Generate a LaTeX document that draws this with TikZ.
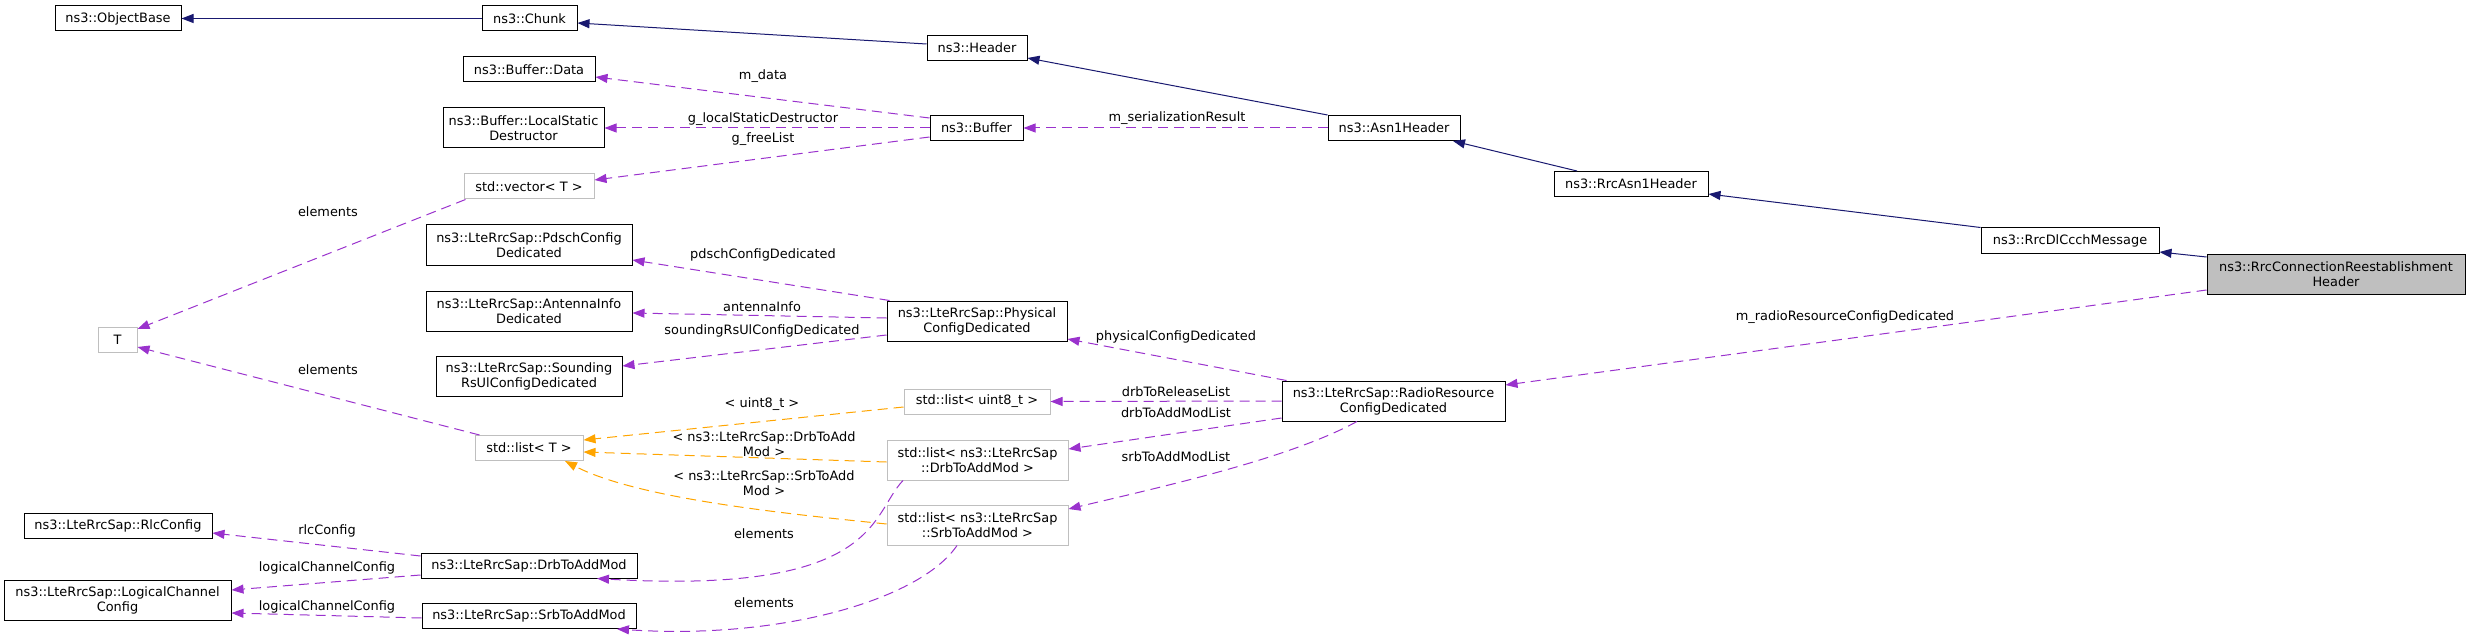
\documentclass[tikz,border=0pt]{standalone}
\usepackage{fontspec}
\setmainfont{DejaVu Sans}
\usetikzlibrary{arrows.meta,calc}
\definecolor{inhc}{HTML}{191970}
\definecolor{usec}{HTML}{9A32CD}
\definecolor{tplc}{HTML}{FFA500}
\definecolor{greyb}{HTML}{BFBFBF}
\begin{document}
\begin{tikzpicture}[x=1pt,y=-1pt,
  every node/.style={font=\fontsize{12.9pt}{15pt}\selectfont, align=center, inner sep=0pt},
  cls/.style={draw=black, line width=1pt, fill=white, minimum height=25pt},
  tcls/.style={draw=greyb, line width=1pt, fill=white, minimum height=25pt},
  two/.style={minimum height=40pt},
  inh/.style={draw=inhc, line width=1pt, -{Triangle[length=12pt,width=9pt]}},
  use/.style={draw=usec, line width=1pt, dash pattern=on 10pt off 6pt, -{Triangle[length=12pt,width=9pt]}},
  tpl/.style={draw=tplc, line width=1pt, dash pattern=on 10pt off 6pt, -{Triangle[length=12pt,width=9pt]}},
  lbl/.style={text=black}]
\useasboundingbox (0,0) rectangle (2471,639);
% nodes
\node[cls, minimum width=126pt] (ob) at (118,18.5) {ns3::ObjectBase};
\node[cls, minimum width=95pt] (chunk) at (529.5,18.5) {ns3::Chunk};
\node[cls, minimum width=100pt] (header) at (977,48) {ns3::Header};
\node[cls, minimum width=93pt] (buffer) at (976.5,128) {ns3::Buffer};
\node[cls, minimum width=132pt] (data) at (529,69.5) {ns3::Buffer::Data};
\node[cls, two, minimum width=161pt] (lsd) at (523.5,128) {ns3::Buffer::LocalStatic\\Destructor};
\node[tcls, minimum width=130pt] (vec) at (529,186.5) {std::vector< T >};
\node[cls, minimum width=132pt] (asn1) at (1394,128) {ns3::Asn1Header};
\node[cls, minimum width=154pt] (rrcasn1) at (1631,184) {ns3::RrcAsn1Header};
\node[cls, minimum width=178pt] (dlccch) at (2070,240.5) {ns3::RrcDlCcchMessage};
\node[cls, two, fill=greyb, minimum width=258pt] (rrh) at (2336,274.5) {ns3::RrcConnectionReestablishment\\Header};
\node[tcls, minimum width=39pt] (T) at (117.5,339.5) {T};
\node[cls, two, minimum width=206pt] (pdsch) at (529,245) {ns3::LteRrcSap::PdschConfig\\Dedicated};
\node[cls, two, minimum width=206pt] (ant) at (529,311) {ns3::LteRrcSap::AntennaInfo\\Dedicated};
\node[cls, two, minimum width=186pt] (snd) at (529,376) {ns3::LteRrcSap::Sounding\\RsUlConfigDedicated};
\node[cls, two, minimum width=180pt] (phys) at (977,321) {ns3::LteRrcSap::Physical\\ConfigDedicated};
\node[cls, two, minimum width=223pt] (rrcd) at (1393.5,401) {ns3::LteRrcSap::RadioResource\\ConfigDedicated};
\node[tcls, minimum width=146pt] (lu8) at (977,401.5) {std::list< uint8\_t >};
\node[tcls, minimum width=108pt] (listT) at (529,448) {std::list< T >};
\node[tcls, two, minimum width=181pt] (ldrb) at (977.5,460) {std::list< ns3::LteRrcSap\\::DrbToAddMod >};
\node[tcls, two, minimum width=181pt] (lsrb) at (977.5,525) {std::list< ns3::LteRrcSap\\::SrbToAddMod >};
\node[cls, minimum width=188pt] (rlc) at (118,525.5) {ns3::LteRrcSap::RlcConfig};
\node[cls, two, minimum width=227pt] (lcc) at (117.5,600) {ns3::LteRrcSap::LogicalChannel\\Config};
\node[cls, minimum width=216pt] (drb) at (529,565.5) {ns3::LteRrcSap::DrbToAddMod};
\node[cls, minimum width=214pt] (srb) at (529,616) {ns3::LteRrcSap::SrbToAddMod};
% inheritance
\draw[inh] (chunk.west) -- (ob.east);
\draw[inh] ([yshift=4pt]header.west) -- ([yshift=-4.5pt]chunk.east);
\draw[inh] (asn1.north west) -- ([yshift=-10pt]header.east);
\draw[inh] ([xshift=-54pt]rrcasn1.north) -- ([xshift=59pt]asn1.south);
\draw[inh] (dlccch.north west) -- ([yshift=-10pt]rrcasn1.east);
\draw[inh] ([yshift=17.5pt]rrh.west) -- ([yshift=-11.5pt]dlccch.east);
% usage
\draw[use] ([yshift=-15.5pt]rrh.west) -- ([yshift=16pt]rrcd.east);
\draw[use] (asn1.west) -- (buffer.east);
\draw[use] ([yshift=10pt]buffer.west) -- ([yshift=-7.5pt]data.east);
\draw[use] (buffer.west) -- (lsd.east);
\draw[use] ([yshift=-9pt]buffer.west) -- ([yshift=6.5pt]vec.east);
\draw[use] ([xshift=2pt]vec.south west) -- ([yshift=10.5pt]T.east);
\draw[use] ([xshift=5pt]listT.north west) -- ([yshift=-7.5pt]T.east);
\draw[use] ([xshift=5pt]rrcd.north west) -- ([yshift=-18pt]phys.east);
\draw[use] ([xshift=3pt]phys.north west) -- ([yshift=-15pt]pdsch.east);
\draw[use] ([yshift=3pt]phys.west) -- ([yshift=-2pt]ant.east);
\draw[use] ([yshift=-14pt]phys.west) -- ([yshift=10pt]snd.east);
\draw[use] (rrcd.west) -- (lu8.east);
\draw[use] ([yshift=-17pt]rrcd.west) -- ([yshift=11pt]ldrb.east);
\draw[use] ([xshift=-36.5pt]rrcd.south) .. controls (1290,458) and (1170,485) .. ([yshift=16pt]lsrb.east);
\draw[use] ([xshift=-74.5pt]ldrb.south) .. controls (870,515) and (880,595) .. ([xshift=68pt]drb.south);
\draw[use] ([xshift=-20.5pt]lsrb.south) .. controls (920,600) and (780,640) .. ([xshift=88pt]srb.south);
\draw[use] ([yshift=9.5pt]drb.west) -- ([yshift=-7.5pt]rlc.east);
\draw[use] ([yshift=-9.5pt]drb.west) -- ([yshift=10pt]lcc.east);
\draw[use] ([yshift=-2pt]srb.west) -- ([yshift=-13pt]lcc.east);
% template instantiation
\draw[tpl] ([yshift=-5.5pt]lu8.west) -- ([yshift=8pt]listT.east);
\draw[tpl] ([yshift=-2pt]ldrb.west) -- ([yshift=-4pt]listT.east);
\draw[tpl] ([yshift=1pt]lsrb.west) .. controls (800,515) and (640,500) .. ([xshift=36pt]listT.south);
% labels
\node[lbl] (l1) at (1845,317) {m\_radioResourceConfigDedicated};
\node[lbl] (l2) at (1177,118) {m\_serializationResult};
\node[lbl] (l3) at (763,76) {m\_data};
\node[lbl] (l4) at (763,119) {g\_localStaticDestructor};
\node[lbl] (l5) at (763,139) {g\_freeList};
\node[lbl] (l6) at (328,212) {elements};
\node[lbl] (l7) at (328,370) {elements};
\node[lbl] (l8) at (1176,337) {physicalConfigDedicated};
\node[lbl] (l9) at (763,255) {pdschConfigDedicated};
\node[lbl] (l10) at (762,307) {antennaInfo};
\node[lbl] (l11) at (762,331) {soundingRsUlConfigDedicated};
\node[lbl] (l12) at (1176,392) {drbToReleaseList};
\node[lbl] (l13) at (1176,413) {drbToAddModList};
\node[lbl] (l14) at (1176,457) {srbToAddModList};
\node[lbl] (l15) at (764,534) {elements};
\node[lbl] (l16) at (764,603) {elements};
\node[lbl] (l17) at (327,531) {rlcConfig};
\node[lbl] (l18) at (327,568) {logicalChannelConfig};
\node[lbl] (l19) at (327,607) {logicalChannelConfig};
\node[lbl] (l20) at (762,404) {< uint8\_t >};
\node[lbl] (l21) at (764,444) {< ns3::LteRrcSap::DrbToAdd\\Mod >};
\node[lbl] (l22) at (764,483) {< ns3::LteRrcSap::SrbToAdd\\Mod >};
\end{tikzpicture}
\end{document}
